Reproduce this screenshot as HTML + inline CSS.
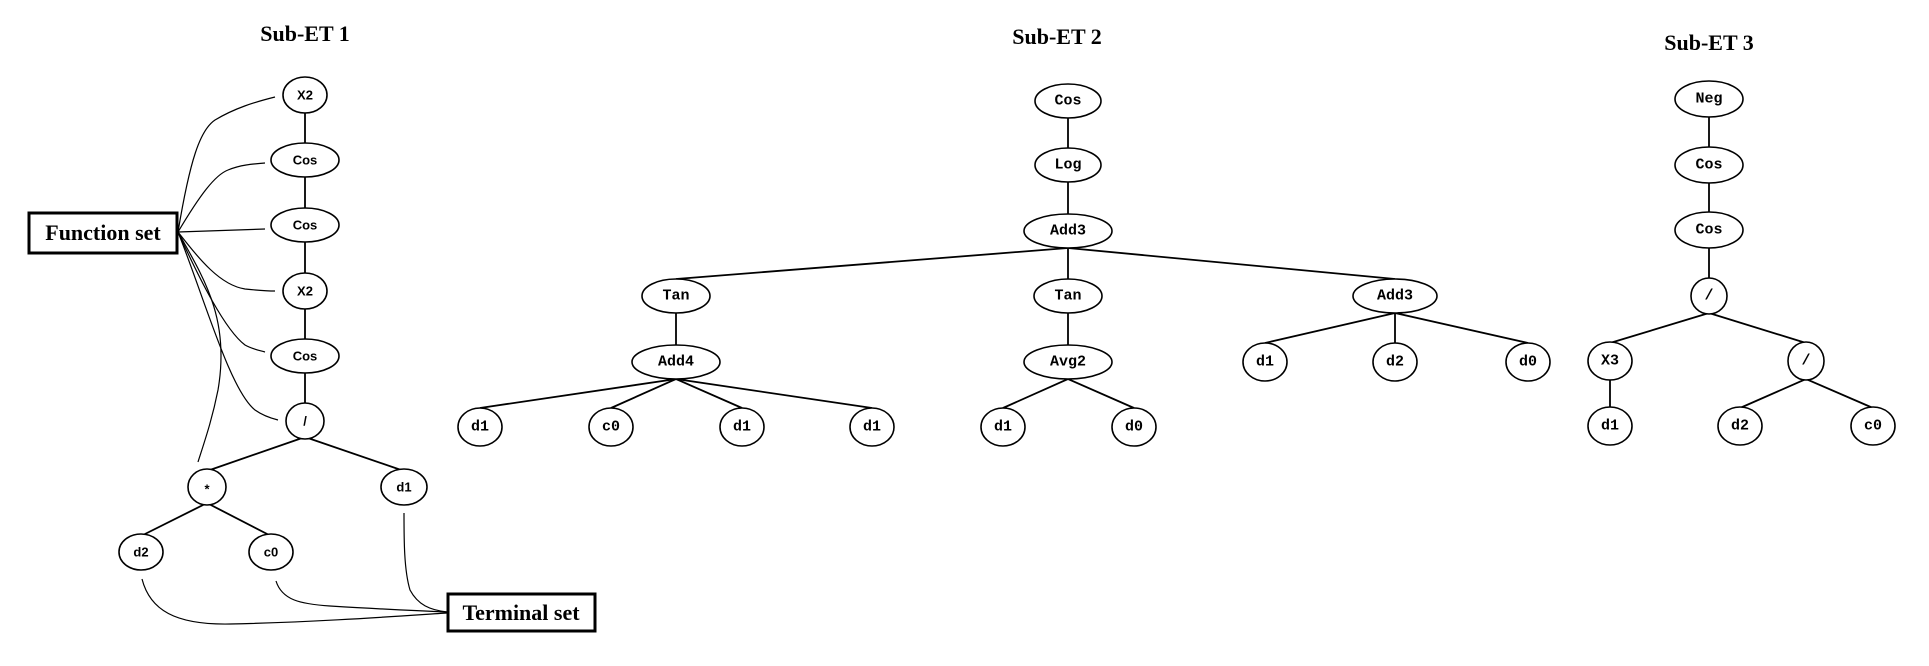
<!DOCTYPE html>
<html><head><meta charset="utf-8"><style>
html,body{margin:0;padding:0;background:#fff;}
svg{display:block;}
.t{font-family:"Liberation Serif",serif;font-weight:bold;font-size:22px;fill:#000;}
.n{font-family:"Liberation Mono",monospace;font-weight:bold;font-size:15px;fill:#000;text-anchor:middle;dominant-baseline:central;}
.s{font-family:"Liberation Sans",sans-serif;font-weight:bold;font-size:13px;fill:#000;text-anchor:middle;dominant-baseline:central;}
ellipse{fill:#fff;stroke:#000;stroke-width:1.6;}
line{stroke:#000;stroke-width:1.8;}
path{fill:none;stroke:#000;stroke-width:1.2;}
</style></head><body>
<svg width="1929" height="666" viewBox="0 0 1929 666" xmlns="http://www.w3.org/2000/svg">
<text class="t" x="305" y="41" text-anchor="middle">Sub-ET 1</text>
<text class="t" x="1057" y="44" text-anchor="middle">Sub-ET 2</text>
<text class="t" x="1709" y="50" text-anchor="middle">Sub-ET 3</text>

<line x1="305" y1="95" x2="305" y2="421"/>
<line x1="305" y1="437" x2="207" y2="471"/>
<line x1="305" y1="437" x2="404" y2="471"/>
<line x1="207" y1="503" x2="141" y2="536"/>
<line x1="207" y1="503" x2="271" y2="536"/>

<path d="M178,232 C190,160 200,130 215,120 C235,108 255,102 275,97"/>
<path d="M178,232 C200,195 215,175 228,170 C240,165 252,164 265,163"/>
<path d="M178,232 L265,229"/>
<path d="M178,232 C200,260 220,285 245,289 C255,290 265,291 275,291"/>
<path d="M178,232 C200,280 225,330 245,345 C252,349 258,350 265,352"/>
<path d="M178,232 C205,300 230,390 255,410 C262,415 270,418 278,420"/>
<path d="M178,232 C205,280 230,320 218,390 C212,420 205,440 198,462"/>

<path d="M404,513 C404,540 404,570 410,590 C418,605 430,610 447,612"/>
<path d="M276,581 C282,600 300,604 330,606 C380,609 420,611 447,612"/>
<path d="M142,579 C150,610 175,625 230,624 C320,622 400,616 447,613"/>

<ellipse cx="305" cy="95" rx="22" ry="18"/><text class="s" x="305" y="95">X2</text>
<ellipse cx="305" cy="160" rx="34" ry="17"/><text class="s" x="305" y="160">Cos</text>
<ellipse cx="305" cy="225" rx="34" ry="17"/><text class="s" x="305" y="225">Cos</text>
<ellipse cx="305" cy="291" rx="22" ry="18"/><text class="s" x="305" y="291">X2</text>
<ellipse cx="305" cy="356" rx="34" ry="17"/><text class="s" x="305" y="356">Cos</text>
<ellipse cx="305" cy="421" rx="19" ry="18"/><text class="s" x="305" y="421">/</text>
<ellipse cx="207" cy="487" rx="19" ry="18"/><text class="s" x="207" y="489">*</text>
<ellipse cx="404" cy="487" rx="23" ry="18"/><text class="s" x="404" y="487">d1</text>
<ellipse cx="141" cy="552" rx="22" ry="18"/><text class="s" x="141" y="552">d2</text>
<ellipse cx="271" cy="552" rx="22" ry="18"/><text class="s" x="271" y="552">c0</text>

<rect x="29" y="213" width="148" height="40" fill="#fff" stroke="#000" stroke-width="3"/>
<text class="t" x="103" y="240" text-anchor="middle">Function set</text>
<rect x="448" y="594" width="147" height="37" fill="#fff" stroke="#000" stroke-width="3"/>
<text class="t" x="521" y="620" text-anchor="middle">Terminal set</text>

<line x1="1068" y1="101" x2="1068" y2="296"/>
<line x1="1068" y1="248" x2="676" y2="279"/>
<line x1="1068" y1="248" x2="1395" y2="279"/>
<line x1="676" y1="296" x2="676" y2="362"/>
<line x1="676" y1="379" x2="480" y2="408"/>
<line x1="676" y1="379" x2="611" y2="408"/>
<line x1="676" y1="379" x2="742" y2="408"/>
<line x1="676" y1="379" x2="872" y2="408"/>
<line x1="1068" y1="296" x2="1068" y2="362"/>
<line x1="1068" y1="379" x2="1003" y2="408"/>
<line x1="1068" y1="379" x2="1134" y2="408"/>
<line x1="1395" y1="313" x2="1265" y2="343"/>
<line x1="1395" y1="313" x2="1395" y2="343"/>
<line x1="1395" y1="313" x2="1528" y2="343"/>

<ellipse cx="1068" cy="101" rx="33" ry="17"/><text class="n" x="1068" y="101">Cos</text>
<ellipse cx="1068" cy="165" rx="33" ry="17"/><text class="n" x="1068" y="165">Log</text>
<ellipse cx="1068" cy="231" rx="44" ry="17"/><text class="n" x="1068" y="231">Add3</text>
<ellipse cx="676" cy="296" rx="34" ry="17"/><text class="n" x="676" y="296">Tan</text>
<ellipse cx="1068" cy="296" rx="34" ry="17"/><text class="n" x="1068" y="296">Tan</text>
<ellipse cx="1395" cy="296" rx="42" ry="17"/><text class="n" x="1395" y="296">Add3</text>
<ellipse cx="676" cy="362" rx="44" ry="17"/><text class="n" x="676" y="362">Add4</text>
<ellipse cx="1068" cy="362" rx="44" ry="17"/><text class="n" x="1068" y="362">Avg2</text>
<ellipse cx="480" cy="427" rx="22" ry="19"/><text class="n" x="480" y="427">d1</text>
<ellipse cx="611" cy="427" rx="22" ry="19"/><text class="n" x="611" y="427">c0</text>
<ellipse cx="742" cy="427" rx="22" ry="19"/><text class="n" x="742" y="427">d1</text>
<ellipse cx="872" cy="427" rx="22" ry="19"/><text class="n" x="872" y="427">d1</text>
<ellipse cx="1003" cy="427" rx="22" ry="19"/><text class="n" x="1003" y="427">d1</text>
<ellipse cx="1134" cy="427" rx="22" ry="19"/><text class="n" x="1134" y="427">d0</text>
<ellipse cx="1265" cy="362" rx="22" ry="19"/><text class="n" x="1265" y="362">d1</text>
<ellipse cx="1395" cy="362" rx="22" ry="19"/><text class="n" x="1395" y="362">d2</text>
<ellipse cx="1528" cy="362" rx="22" ry="19"/><text class="n" x="1528" y="362">d0</text>

<line x1="1709" y1="99" x2="1709" y2="296"/>
<line x1="1709" y1="313" x2="1610" y2="343"/>
<line x1="1709" y1="313" x2="1806" y2="343"/>
<line x1="1610" y1="361" x2="1610" y2="426"/>
<line x1="1806" y1="379" x2="1740" y2="408"/>
<line x1="1806" y1="379" x2="1873" y2="408"/>

<ellipse cx="1709" cy="99" rx="34" ry="18"/><text class="n" x="1709" y="99">Neg</text>
<ellipse cx="1709" cy="165" rx="34" ry="18"/><text class="n" x="1709" y="165">Cos</text>
<ellipse cx="1709" cy="230" rx="34" ry="18"/><text class="n" x="1709" y="230">Cos</text>
<ellipse cx="1709" cy="296" rx="18" ry="18"/><text class="n" x="1709" y="296">/</text>
<ellipse cx="1610" cy="361" rx="22" ry="19"/><text class="n" x="1610" y="361">X3</text>
<ellipse cx="1806" cy="361" rx="18" ry="19"/><text class="n" x="1806" y="361">/</text>
<ellipse cx="1610" cy="426" rx="22" ry="19"/><text class="n" x="1610" y="426">d1</text>
<ellipse cx="1740" cy="426" rx="22" ry="19"/><text class="n" x="1740" y="426">d2</text>
<ellipse cx="1873" cy="426" rx="22" ry="19"/><text class="n" x="1873" y="426">c0</text>
</svg>
</body></html>
